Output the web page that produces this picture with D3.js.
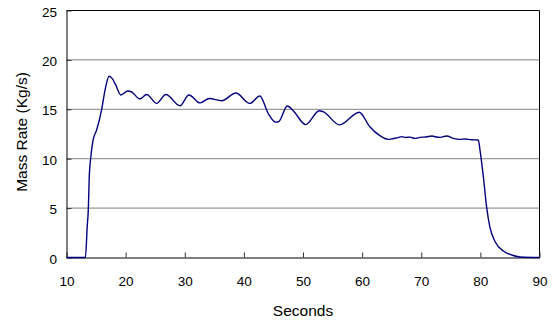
<!DOCTYPE html>
<html>
<head>
<meta charset="utf-8">
<script src="https://cdn.jsdelivr.net/npm/d3@7"></script>
<style>
  html, body { margin: 0; padding: 0; background: #fff; }
  svg { display: block; }
  text { font-family: "Liberation Sans", Arial, sans-serif; fill: #000; }
</style>
</head>
<body>
<svg id="chart" width="557" height="322"></svg>
<script>
// Time (s) of each sample
const seconds = [10, 13.2, 13.5, 13.7, 13.85, 14.1, 14.5, 15.1, 15.95, 16.6, 17.2, 17.75, 18.3,
  19.2, 20.35, 20.9, 22.4, 23.55, 25.25, 26.8, 29.2, 30.7, 32.6, 34.15, 36.25, 38.65, 41.0,
  42.7, 44.1, 45.4, 45.9, 47.35, 48.35, 50.45, 52.75, 53.4, 56.2, 59.5, 61.3, 63.0, 64.4,
  65.3, 66.1, 66.7, 67.4, 68.1, 68.9, 69.8, 70.8, 71.8, 72.5, 73.2, 74.3, 75.4, 76.55, 77.4,
  78.5, 79.65, 79.93, 80.5, 81.07, 81.6, 82.5, 83.9, 85.3, 86.7, 90];

// Mass flow rate (kg/s) at each sample
const massRate = [0, 0, 3.1, 5.0, 8.2, 10.1, 11.9, 12.9, 15.0, 17.2, 18.35, 18.1, 17.5,
  16.45, 16.85, 16.8, 16.05, 16.5, 15.6, 16.5, 15.36, 16.45, 15.65, 16.1, 15.87, 16.65, 15.6,
  16.35, 14.6, 13.7, 13.75, 15.33, 14.86, 13.45, 14.86, 14.76, 13.42, 14.7, 13.24, 12.33, 11.96,
  12.05, 12.13, 12.23, 12.15, 12.18, 12.06, 12.16, 12.2, 12.3, 12.2, 12.16, 12.3, 12.06, 11.96, 12.0,
  11.92, 11.9, 10.9, 8.2, 5.04, 3.1, 1.6, 0.66, 0.25, 0.05, 0];

const xTicks = [10, 20, 30, 40, 50, 60, 70, 80, 90];
const yTicks = [0, 5, 10, 15, 20, 25];

const svg = d3.select("#chart");
const W = 557, H = 322;
const margin = { left: 66.5, right: 17.5, top: 10.5, bottom: 64.5 };

const x = d3.scaleLinear().domain([10, 90]).range([margin.left, W - margin.right]);
const y = d3.scaleLinear().domain([0, 25]).range([H - margin.bottom, margin.top]);

// horizontal gridlines
svg.append("g")
  .selectAll("line")
  .data(yTicks.filter(v => v > 0 && v < 25))
  .join("line")
  .attr("x1", x(10)).attr("x2", x(90))
  .attr("y1", d => y(d)).attr("y2", d => y(d))
  .attr("stroke", "#808080").attr("stroke-width", 1);

// frame: top and right edges
svg.append("path")
  .attr("d", `M${x(10)},${y(25)}H${x(90)}V${y(0)}`)
  .attr("fill", "none").attr("stroke", "#000").attr("stroke-width", 1);

// x axis with inward ticks
const xAxis = d3.axisBottom(x).tickValues(xTicks).tickSizeInner(-5).tickSizeOuter(0).tickPadding(19);
const gx = svg.append("g").attr("transform", `translate(0,${y(0)})`).call(xAxis);
gx.select(".domain").attr("stroke", "#000");
gx.selectAll(".tick line").attr("stroke", "#333");
gx.selectAll(".tick text").attr("font-size", 13.5).attr("font-family", "Liberation Sans, Arial, sans-serif");

// y axis with inward ticks
const yAxis = d3.axisLeft(y).tickValues(yTicks).tickSizeInner(-5).tickSizeOuter(0).tickPadding(9.5);
const gy = svg.append("g").attr("transform", `translate(${x(10)},0)`).call(yAxis);
gy.select(".domain").attr("stroke", "#000");
gy.selectAll(".tick line").attr("stroke", "#333");
gy.selectAll(".tick text").attr("font-size", 13.5).attr("dy", "0.42em")
  .attr("font-family", "Liberation Sans, Arial, sans-serif");

// data line
const line = d3.line()
  .x((d, i) => x(seconds[i]))
  .y(d => y(d))
  .curve(d3.curveMonotoneX);

svg.append("path")
  .datum(massRate)
  .attr("d", line)
  .attr("fill", "none")
  .attr("stroke", "#000080")
  .attr("stroke-width", 1.4)
  .attr("stroke-linejoin", "round");

// axis titles
svg.append("text")
  .attr("x", (x(10) + x(90)) / 2).attr("y", 315.5)
  .attr("text-anchor", "middle").attr("font-size", 15.5)
  .text("Seconds");

svg.append("text")
  .attr("transform", `translate(27,132) rotate(-90)`)
  .attr("text-anchor", "middle").attr("font-size", 15.5)
  .text("Mass Rate (Kg/s)");
</script>
</body>
</html>
